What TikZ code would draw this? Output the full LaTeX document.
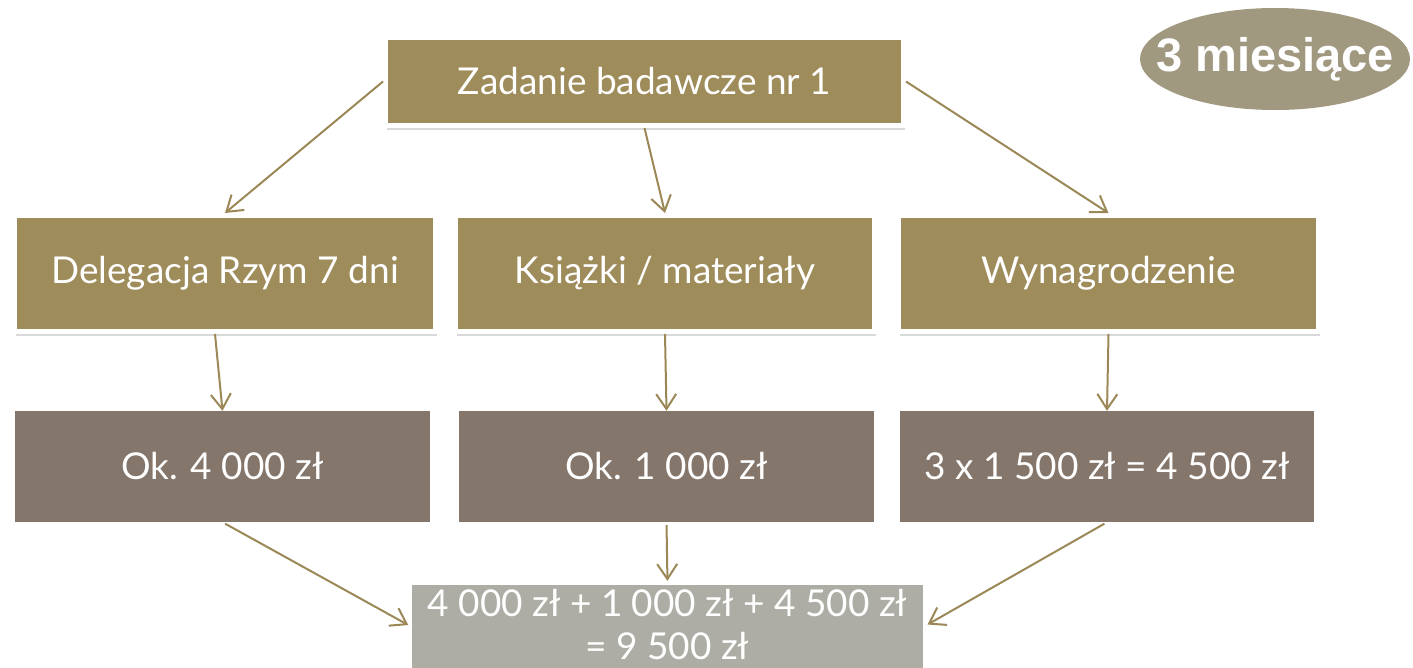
\documentclass[tikz,border=0pt]{standalone}
\usepackage{fontspec}
\setmainfont{Lato}
\newfontfamily\arialb{Liberation Sans}
\usetikzlibrary{arrows.meta,shadows,shapes.geometric}
\definecolor{olive}{RGB}{159,140,91}
\definecolor{brownbox}{RGB}{133,118,108}
\definecolor{graybox}{RGB}{173,173,165}
\definecolor{ellcol}{RGB}{161,152,128}
\definecolor{arrcol}{RGB}{155,136,86}
\tikzset{
  lightbox/.style={fill=olive, draw=white, line width=5pt, text=white,
    font=\fontsize{37}{44}\selectfont, inner sep=0pt,
    drop shadow={shadow xshift=1pt, shadow yshift=-4pt, opacity=0.3}},
  darkbox/.style={fill=brownbox, text=white, font=\fontsize{37}{44}\selectfont,
    inner sep=0pt, minimum width=415pt, minimum height=111pt},
  conn/.style={draw=arrcol, line width=2pt,
    -{Straight Barb[length=15pt,width=20pt,line width=2pt]}},
}
\begin{document}
\begin{tikzpicture}[x=1pt,y=-1pt]
\useasboundingbox (0,0) rectangle (1413,667);
% top
\node[lightbox, minimum width=518pt, minimum height=88pt] (top) at (644.5,81.5) {Zadanie badawcze nr 1};
% middle row
\node[lightbox, minimum width=421pt, minimum height=116pt] (d1) at (225,273.5) {Delegacja Rzym 7 dni};
\node[lightbox, minimum width=419pt, minimum height=116pt] (d2) at (665,273.5) {Książki / materiały};
\node[lightbox, minimum width=420pt, minimum height=116pt] (d3) at (1108.5,273.5) {Wynagrodzenie};
% bottom row
\node[darkbox] (b1) at (222.5,466.5) {Ok. 4 000 zł};
\node[darkbox] (b2) at (666.5,466.5) {Ok. 1 000 zł};
\node[darkbox, minimum width=414pt] (b3) at (1107,466.5) {3 x 1 500 zł = 4 500 zł};
% summary
\node[fill=graybox, inner sep=0pt, minimum width=511pt, minimum height=84pt] (sum) at (667.5,627) {};
\node[text=white, inner sep=0pt, align=center, font=\fontsize{37}{43}\selectfont] (sumtext) at (667.5,625) {4 000 zł + 1 000 zł + 4 500 zł\\= 9 500 zł};
% ellipse
\node[ellipse, fill=ellcol, text=white, inner sep=0pt, minimum width=270pt, minimum height=102pt,
  font=\arialb\bfseries\fontsize{47}{52}\selectfont] (dur) at (1275,59) {\makebox[0pt]{3 miesiące}};
% connectors
\draw[conn] (top.west) -- (d1.north);
\draw[conn] (top.south) -- (d2.north);
\draw[conn] (top.east) -- (d3.north);
\draw[conn] ([xshift=-10pt]d1.south) -- (b1.north);
\draw[conn] (d2.south) -- (b2.north);
\draw[conn] (d3.south) -- (b3.north);
\draw[conn, shorten <=3pt, shorten >=4pt] (b1.south) -- (sum.west);
\draw[conn, shorten <=3pt, shorten >=4pt] (b2.south) -- (sum.north);
\draw[conn, shorten <=3pt, shorten >=5pt] (b3.south) -- (sum.east);
\end{tikzpicture}
\end{document}
